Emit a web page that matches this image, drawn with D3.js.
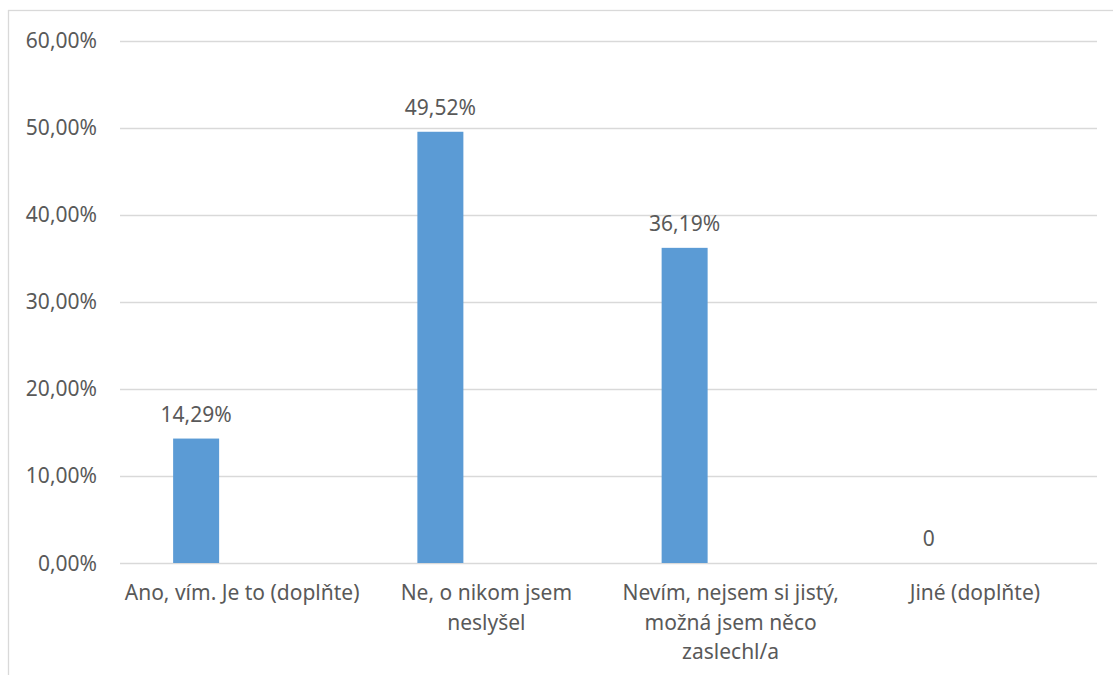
<!DOCTYPE html>
<html>
<head>
<meta charset="utf-8">
<script src="https://cdn.jsdelivr.net/npm/d3@7"></script>
<style>
html,body{margin:0;padding:0;background:#fff;}
svg{display:block;}
text{font-family:"Noto Sans","Open Sans",sans-serif;fill:#595959;}
</style>
</head>
<body>
<svg id="chart" width="1113" height="675"></svg>
<script>
const categories = [
  ["Ano, vím. Je to (doplňte)"],
  ["Ne, o nikom jsem", "neslyšel"],
  ["Nevím, nejsem si jistý,", "možná jsem něco", "zaslechl/a"],
  ["Jiné (doplňte)"]
];
const values = [0.1429, 0.4952, 0.3619, 0];
const valueLabels = ["14,29%", "49,52%", "36,19%", "0"];
const series = ["S1", "S2", "S3"];
const yTicks = [0, 0.1, 0.2, 0.3, 0.4, 0.5, 0.6];
const yTickLabels = ["0,00%", "10,00%", "20,00%", "30,00%", "40,00%", "50,00%", "60,00%"];

const svg = d3.select("#chart");
const plotLeft = 120, plotRight = 1097, plotTop = 40.5, plotBottom = 563;
const fs = 21;

// frame
svg.append("rect").attr("x", 8.5).attr("y", 10.5).attr("width", 1130).attr("height", 700)
  .attr("fill", "none").attr("stroke", "#D9D9D9").attr("stroke-width", 1.3);

const x0 = d3.scaleBand().domain(d3.range(categories.length)).range([plotLeft, plotRight]).padding(0);
const x1 = d3.scaleBand().domain(series).range([0, x0.bandwidth()]).paddingInner(0).paddingOuter(1.155);
const y = d3.scaleLinear().domain([0, 0.6]).range([plotBottom, plotTop]);

// gridlines
svg.append("g").selectAll("line").data(yTicks).join("line")
  .attr("x1", plotLeft).attr("x2", plotRight)
  .attr("y1", d => Math.round(y(d)) + 0.5).attr("y2", d => Math.round(y(d)) + 0.5)
  .attr("stroke", "#D9D9D9").attr("stroke-width", 1.3);

// y labels
svg.append("g").selectAll("text").data(yTicks).join("text")
  .attr("x", 97).attr("y", d => y(d)).attr("dy", "0.36em")
  .attr("text-anchor", "end").attr("font-size", fs)
  .text((d, i) => yTickLabels[i]);

// bars
svg.append("g").selectAll("rect").data(values).join("rect")
  .attr("x", (d, i) => x0(i) + x1("S1"))
  .attr("width", x1.bandwidth())
  .attr("y", d => y(d))
  .attr("height", d => y(0) - y(d))
  .attr("fill", "#5B9BD5");

// value labels
svg.append("g").selectAll("text").data(values).join("text")
  .attr("x", (d, i) => x0(i) + x1("S1") + x1.bandwidth() / 2)
  .attr("y", d => y(d) - 17)
  .attr("text-anchor", "middle").attr("font-size", fs)
  .text((d, i) => valueLabels[i]);

// category labels
const cg = svg.append("g").selectAll("text").data(categories).join("text")
  .attr("x", (d, i) => x0(i) + x0.bandwidth() / 2)
  .attr("y", 600)
  .attr("text-anchor", "middle").attr("font-size", fs);
cg.selectAll("tspan").data(d => d).join("tspan")
  .attr("x", function () { return d3.select(this.parentNode).attr("x"); })
  .attr("dy", (d, i) => i === 0 ? 0 : 29.5)
  .text(d => d);
</script>
</body>
</html>
